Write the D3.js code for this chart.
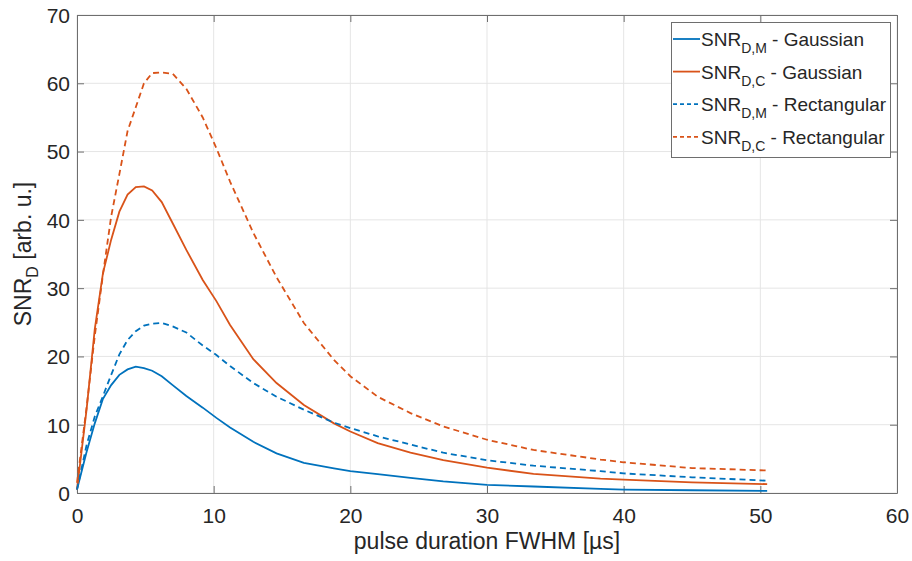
<!DOCTYPE html>
<html>
<head>
<meta charset="utf-8">
<script src="https://cdn.jsdelivr.net/npm/d3@7"></script>
<style>
  body { margin: 0; background: #fff; }
  svg { display: block; font-family: "Liberation Sans", Arial, sans-serif; }
</style>
</head>
<body>
<svg width="912" height="561"></svg>
<script>
// pulse duration FWHM [us]
var pulseWidth = [0, 0.7, 1.3, 1.9, 2.5, 3.1, 3.7, 4.3, 4.9, 5.5, 6.2, 7.0, 8.0, 9.2, 10.2, 11.2,
  12.9, 14.6, 16.6, 18.8, 20, 22, 24.4, 26.8, 30, 33.4, 38.3, 40, 45, 50.5];

// SNR values
var snrMGauss = [0.5, 6.0, 10.2, 13.8, 15.8, 17.3, 18.1, 18.5, 18.3, 17.9, 17.1, 15.8, 14.2, 12.5, 11.0, 9.6,
  7.5, 5.8, 4.4, 3.6, 3.2, 2.75, 2.2, 1.7, 1.2, 0.95, 0.6, 0.5, 0.4, 0.3];
var snrCGauss = [0.5, 12.2, 24.0, 32.2, 37.1, 41.2, 43.7, 44.8, 44.9, 44.3, 42.6, 39.5, 35.6, 31.2, 28.1, 24.6,
  19.6, 16.1, 12.9, 10.2, 9.0, 7.3, 5.9, 4.8, 3.7, 2.8, 2.1, 1.95, 1.55, 1.3];
var snrMRect = [0.5, 7.0, 11.2, 14.2, 17.3, 20.3, 22.4, 23.7, 24.5, 24.8, 24.9, 24.4, 23.5, 21.6, 20.2, 18.6,
  16.1, 14.1, 12.2, 10.3, 9.5, 8.3, 7.1, 5.9, 4.8, 4.0, 3.2, 2.87, 2.3, 1.8];
var snrCRect = [1.5, 12.5, 23.0, 32.0, 40.5, 46.7, 53.0, 56.5, 60.0, 61.5, 61.6, 61.4, 59.2, 55.0, 50.5, 45.6,
  38.1, 31.6, 24.9, 19.5, 17.1, 14.1, 11.7, 9.75, 7.8, 6.3, 4.9, 4.5, 3.65, 3.3];

var xTicks = [0, 10, 20, 30, 40, 50, 60];
var yTicks = [0, 10, 20, 30, 40, 50, 60, 70];

var seriesNames = ["D,M|Gaussian", "D,C|Gaussian", "D,M|Rectangular", "D,C|Rectangular"];
var seriesValues = [snrMGauss, snrCGauss, snrMRect, snrCRect];
var seriesColors = ["#0072BD", "#D95319", "#0072BD", "#D95319"];
var seriesDash = [null, null, "6,4", "6,4"];

var svg = d3.select("svg"),
  margin = {top: 15, right: 15, bottom: 68, left: 77},
  width = +svg.attr("width") - margin.left - margin.right,
  height = +svg.attr("height") - margin.top - margin.bottom;

var textColor = "#262626";
var axisColor = "#6e6e6e";

var x = d3.scaleLinear().domain([0, 60]).range([0, width]);
var y = d3.scaleLinear().domain([0, 70]).range([height, 0]);

var g = svg.append("g")
  .attr("transform", "translate(" + margin.left + "," + margin.top + ")");

// grid
g.selectAll(".xgrid").data(xTicks).enter().append("line")
  .attr("x1", function(d) { return x(d); }).attr("x2", function(d) { return x(d); })
  .attr("y1", 0).attr("y2", height)
  .style("stroke", "#e5e5e5").style("stroke-width", 1);
g.selectAll(".ygrid").data(yTicks).enter().append("line")
  .attr("x1", 0).attr("x2", width)
  .attr("y1", function(d) { return y(d); }).attr("y2", function(d) { return y(d); })
  .style("stroke", "#e5e5e5").style("stroke-width", 1);

// axes (ticks inward, mirrored on top/right like matlab box)
var xAxis = g.append("g").attr("transform", "translate(0," + height + ")")
  .call(d3.axisBottom(x).tickValues(xTicks).tickSizeInner(-7).tickSizeOuter(0).tickPadding(15));
var xAxisTop = g.append("g")
  .call(d3.axisTop(x).tickValues(xTicks).tickSizeInner(-7).tickSizeOuter(0).tickFormat(""));
var yAxis = g.append("g")
  .call(d3.axisLeft(y).tickValues(yTicks).tickSizeInner(-7).tickSizeOuter(0).tickPadding(7));
var yAxisRight = g.append("g").attr("transform", "translate(" + width + ",0)")
  .call(d3.axisRight(y).tickValues(yTicks).tickSizeInner(-7).tickSizeOuter(0).tickFormat(""));

[xAxis, xAxisTop, yAxis, yAxisRight].forEach(function(a) {
  a.select(".domain").style("stroke", axisColor).style("stroke-width", 1);
  a.selectAll(".tick line").style("stroke", axisColor);
  a.selectAll("text").style("font-size", "21px").style("fill", textColor)
    .style("font-family", "Liberation Sans, Arial, sans-serif");
});
yAxis.selectAll("text").attr("dy", "0.35em");

// curves
var line = d3.line()
  .x(function(d) { return x(d[0]); })
  .y(function(d) { return y(d[1]); });

seriesValues.forEach(function(vals, i) {
  g.append("path")
    .datum(pulseWidth.map(function(p, j) { return [p, vals[j]]; }))
    .attr("d", line)
    .style("fill", "none")
    .style("stroke", seriesColors[i])
    .style("stroke-width", 1.8)
    .style("stroke-dasharray", seriesDash[i]);
});

// axis labels
svg.append("text")
  .attr("x", margin.left + width / 2)
  .attr("y", 549)
  .attr("text-anchor", "middle")
  .style("font-size", "23px")
  .style("fill", textColor)
  .text("pulse duration FWHM [µs]");

var yl = svg.append("text")
  .attr("transform", "translate(31," + (margin.top + height / 2) + ") rotate(-90)")
  .attr("text-anchor", "middle")
  .style("font-size", "23px")
  .style("fill", textColor);
yl.append("tspan").text("SNR");
yl.append("tspan").attr("dy", 7).style("font-size", "16px").text("D");
yl.append("tspan").attr("dy", -7).text(" [arb. u.]");

// legend
var legendX = 671, legendY = 22, legendW = 219, legendH = 135;
var legend = svg.append("g");
legend.append("rect")
  .attr("x", legendX + 0.5).attr("y", legendY + 0.5)
  .attr("width", legendW).attr("height", legendH)
  .style("fill", "#fff").style("stroke", axisColor).style("stroke-width", 1);

var items = legend.selectAll(".legend")
  .data(seriesNames)
  .enter().append("g")
  .attr("class", "legend")
  .attr("transform", function(d, i) { return "translate(" + legendX + "," + (legendY + 17 + i * 32.6) + ")"; });

items.append("line")
  .attr("x1", 2).attr("x2", 29).attr("y1", 0).attr("y2", 0)
  .style("stroke", function(d, i) { return seriesColors[i]; })
  .style("stroke-width", 1.8)
  .style("stroke-dasharray", function(d, i) { return seriesDash[i] ? "4,3" : null; });

var lt = items.append("text")
  .attr("x", 30).attr("y", 7)
  .style("font-size", "19px")
  .style("fill", textColor);
lt.append("tspan").text("SNR");
lt.append("tspan").attr("dy", 7).style("font-size", "14px").text(function(d) { return d.split("|")[0]; });
lt.append("tspan").attr("dy", -7).text(function(d) { return " - " + d.split("|")[1]; });
</script>
</body>
</html>
